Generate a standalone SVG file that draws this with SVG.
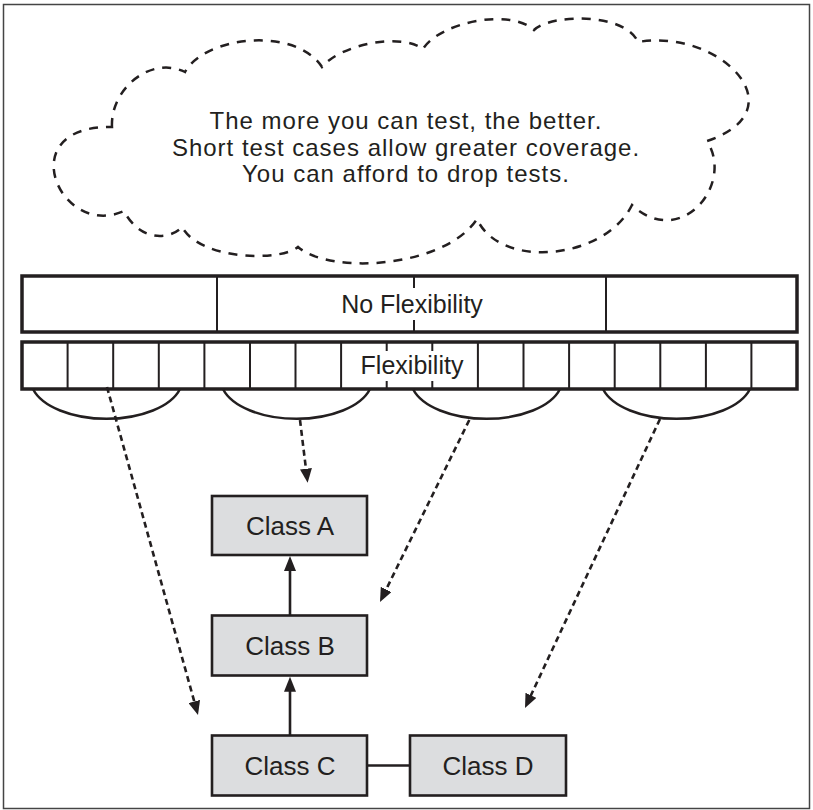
<svg xmlns="http://www.w3.org/2000/svg" width="813" height="810" viewBox="0 0 813 810">
<style>
text{font-family:"Liberation Sans",Arial,sans-serif;fill:#231f20;text-anchor:middle}
.cloudtxt{font-size:24px;letter-spacing:1px}
.bartxt{font-size:25px}
.cls{font-size:26px}
.box{fill:#dcdddf;stroke:#231f20;stroke-width:2.6}
.bar{fill:#fff;stroke:#231f20;stroke-width:3.5}
.div{stroke:#231f20;stroke-width:2;fill:none}
.arc{stroke:#231f20;stroke-width:2.5;fill:none}
.dep{stroke:#231f20;stroke-width:2.6;fill:none;stroke-dasharray:6 4;marker-end:url(#dhead)}
.inh{stroke:#231f20;stroke-width:2.6;fill:none;marker-end:url(#shead)}
.assoc{stroke:#231f20;stroke-width:2.6;fill:none}
</style>
<defs>
<marker id="dhead" markerUnits="userSpaceOnUse" markerWidth="14" markerHeight="12" refX="2" refY="6" orient="auto"><path d="M0,0 L14,6 L0,12 z" fill="#231f20"/></marker>
<marker id="shead" markerUnits="userSpaceOnUse" markerWidth="15" markerHeight="12" refX="3" refY="6" orient="auto"><path d="M0,0 L15,6 L0,12 z" fill="#231f20"/></marker>
</defs>
<rect x="0" y="0" width="813" height="810" fill="#fff"/>
<rect x="3.5" y="4.5" width="806" height="804" fill="none" stroke="#444" stroke-width="1.5"/>

<g id="cloud">
<path d="M112,127 C110,90 150,55 185,72 C205,36 295,26 322,67 C340,45 400,32 423,49 C440,22 510,8 534,30 C550,14 625,12 638,42 C720,28 800,110 707,141 C735,185 680,250 632,205 C605,260 500,270 477,219 C445,268 330,275 298,247 C280,262 200,260 182,227 C170,240 140,242 124,211 C60,240 10,125 112,127 Z" fill="none" stroke="#231f20" stroke-width="2.5" stroke-dasharray="9 8"/>
<text class="cloudtxt"><tspan x="406" y="129">The more you can test, the better.</tspan><tspan x="406" y="155.5">Short test cases allow greater coverage.</tspan><tspan x="406" y="182">You can afford to drop tests.</tspan></text>
</g>

<g id="no-flexibility">
<rect class="bar" x="22" y="276" width="775" height="56"/>
<path class="div" d="M217,276 V332 M606,276 V332 M414,276 V288 M414,320 V332"/>
<text class="bartxt" x="412" y="313">No Flexibility</text>
</g>

<g id="flexibility">
<rect class="bar" x="22" y="342" width="775" height="47"/>
<path class="div" d="M67.6,342V389 M113.2,342V389 M158.8,342V389 M204.4,342V389 M250,342V389 M295.5,342V389 M341.1,342V389 M386.7,342V351 M386.7,381V389 M432.3,342V351 M432.3,381V389 M477.9,342V389 M523.5,342V389 M569.1,342V389 M614.7,342V389 M660.3,342V389 M705.9,342V389 M751.4,342V389"/>
<text class="bartxt" x="412" y="374">Flexibility</text>
<path class="arc" d="M33,389 A76,40 0 0 0 180,389 M223,389 A76,40 0 0 0 370,389 M413,389 A76,40 0 0 0 560,389 M603,389 A76,40 0 0 0 750,389"/>
</g>

<g id="class-a">
<rect class="box" x="212" y="496" width="155" height="59"/>
<text class="cls" x="290" y="534.5">Class A</text>
</g>
<g id="class-b">
<rect class="box" x="212" y="615.5" width="155" height="60"/>
<text class="cls" x="290" y="654.5">Class B</text>
</g>
<g id="class-c">
<rect class="box" x="212" y="735.5" width="155" height="60"/>
<text class="cls" x="290" y="774.5">Class C</text>
</g>
<g id="class-d">
<rect class="box" x="410" y="735.5" width="156" height="60"/>
<text class="cls" x="488" y="774.5">Class D</text>
</g>

<g id="connectors">
<path class="inh" d="M290,735.5 V688.7"/>
<path class="inh" d="M290,615.5 V568"/>
<path class="assoc" d="M367,765.5 H410"/>
<path class="dep" d="M107,387 L194.8,703.4"/>
<path class="dep" d="M300,420 L306.2,470.8"/>
<path class="dep" d="M469.3,420 L385.3,591.2"/>
<path class="dep" d="M660,419 L530.1,697.1"/>
</g>
</svg>
